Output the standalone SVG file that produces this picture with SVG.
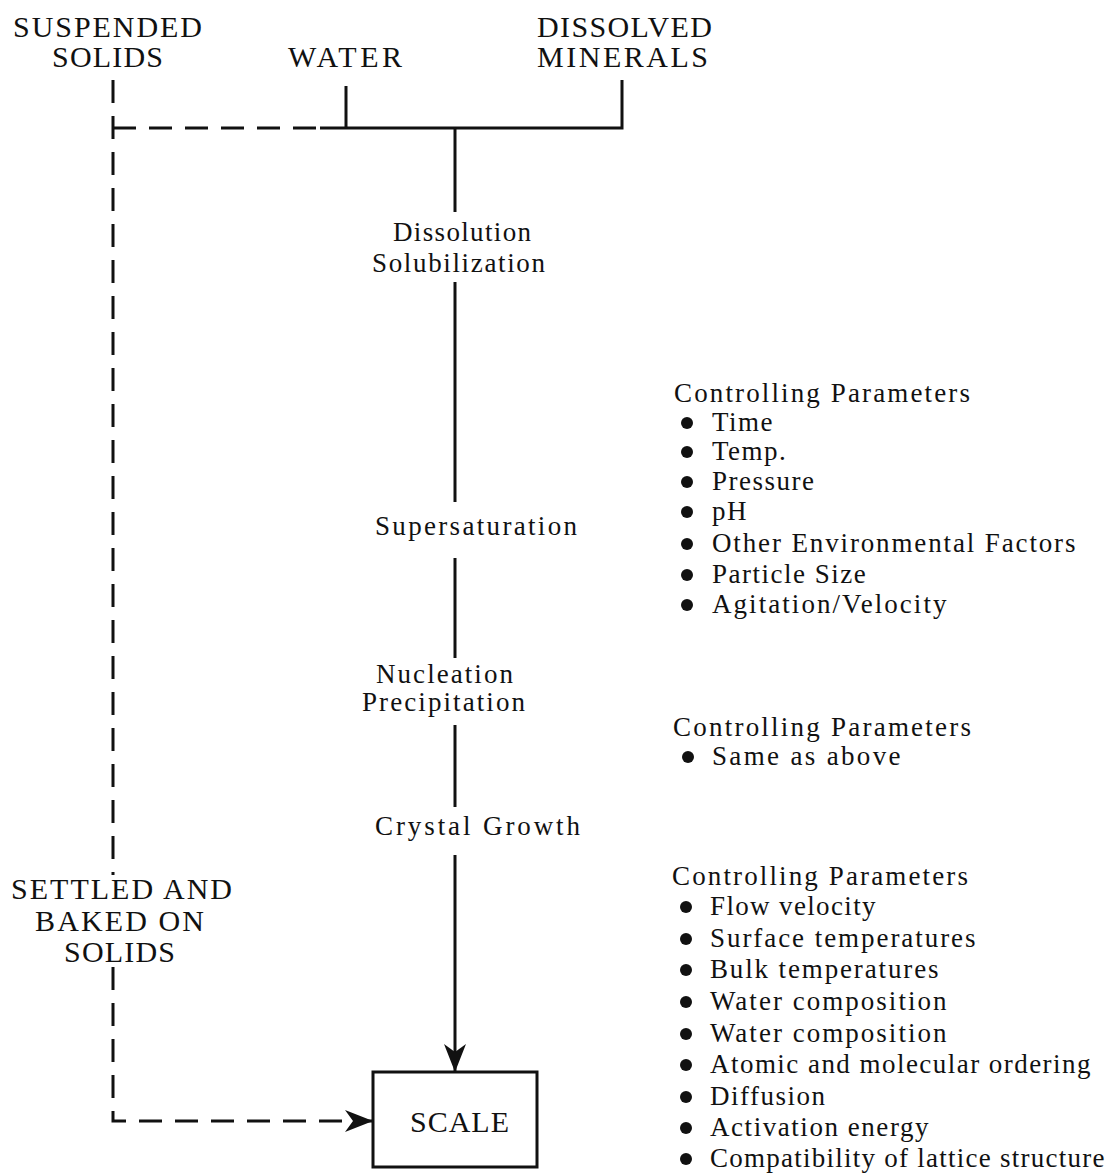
<svg xmlns="http://www.w3.org/2000/svg" width="1110" height="1176" viewBox="0 0 1110 1176">
<defs>
<style>
text{font-family:"Liberation Serif","Times New Roman",serif;fill:#111}
.cap{font-size:30px}
.mid{font-size:27px}
.lst{font-size:27px;letter-spacing:1.5px}
.ln{stroke:#111;stroke-width:3;fill:none}
.dash{stroke-dasharray:23 13}
.bul{fill:#111}
.box{stroke:#111;stroke-width:3;fill:#fff}
</style>
<marker id="arr" viewBox="0 0 28 22" refX="27" refY="11" markerWidth="28" markerHeight="22" markerUnits="userSpaceOnUse" orient="auto">
<path d="M0,0 L28,11 L0,22 L8,11 Z" fill="#111"/>
</marker>
</defs>
<rect width="1110" height="1176" fill="#fff"/>

<g id="connectors">
<path class="ln dash" d="M113,80 V875"/>
<path class="ln dash" d="M113,967 V1121 H372" marker-end="url(#arr)"/>
<path class="ln dash" d="M113,128 H320"/>
<path class="ln" d="M320,128 H622 V80"/>
<path class="ln" d="M346,86 V128"/>
<path class="ln" d="M455,128 V212"/>
<path class="ln" d="M455,282 V502"/>
<path class="ln" d="M455,558 V658"/>
<path class="ln" d="M455,725 V807"/>
<path class="ln" d="M455,855 V1071" marker-end="url(#arr)"/>
</g>

<g id="suspended-solids">
<text class="cap" x="13" y="37" textLength="189" lengthAdjust="spacing">SUSPENDED</text>
<text class="cap" x="52" y="67" textLength="111" lengthAdjust="spacing">SOLIDS</text>
</g>
<g id="water">
<text class="cap" x="288" y="67" textLength="114" lengthAdjust="spacing">WATER</text>
</g>
<g id="dissolved-minerals">
<text class="cap" x="537" y="37" textLength="175" lengthAdjust="spacing">DISSOLVED</text>
<text class="cap" x="537" y="67" textLength="171" lengthAdjust="spacing">MINERALS</text>
</g>
<g id="dissolution">
<text class="mid" x="393" y="241" textLength="138" lengthAdjust="spacing">Dissolution</text>
<text class="mid" x="372" y="272" textLength="173" lengthAdjust="spacing">Solubilization</text>
</g>
<g id="supersaturation">
<text class="mid" x="375" y="535" textLength="202" lengthAdjust="spacing">Supersaturation</text>
</g>
<g id="nucleation">
<text class="mid" x="376" y="683" textLength="137" lengthAdjust="spacing">Nucleation</text>
<text class="mid" x="362" y="711" textLength="163" lengthAdjust="spacing">Precipitation</text>
</g>
<g id="crystal-growth">
<text class="mid" x="375" y="835" textLength="205" lengthAdjust="spacing">Crystal Growth</text>
</g>
<g id="settled-solids">
<text class="cap" x="11" y="899" textLength="221" lengthAdjust="spacing">SETTLED AND</text>
<text class="cap" x="35" y="931" textLength="169" lengthAdjust="spacing">BAKED ON</text>
<text class="cap" x="64" y="962" textLength="111" lengthAdjust="spacing">SOLIDS</text>
</g>
<g id="scale">
<rect class="box" x="373" y="1072" width="164" height="95"/>
<text class="cap" x="410" y="1132" textLength="99" lengthAdjust="spacing">SCALE</text>
</g>

<g id="params-1">
<text class="mid" x="674" y="402" textLength="296" lengthAdjust="spacing">Controlling Parameters</text>
<circle class="bul" cx="687" cy="423" r="6"/><text class="lst" x="712" y="431">Time</text>
<circle class="bul" cx="687" cy="452" r="6"/><text class="lst" x="712" y="460">Temp.</text>
<circle class="bul" cx="687" cy="482" r="6"/><text class="lst" x="712" y="490">Pressure</text>
<circle class="bul" cx="687" cy="512" r="6"/><text class="lst" x="712" y="520">pH</text>
<circle class="bul" cx="687" cy="544" r="6"/><text class="lst" x="712" y="552" textLength="365" lengthAdjust="spacing">Other Environmental Factors</text>
<circle class="bul" cx="687" cy="575" r="6"/><text class="lst" x="712" y="583">Particle Size</text>
<circle class="bul" cx="687" cy="605" r="6"/><text class="lst" x="712" y="613" textLength="236" lengthAdjust="spacing">Agitation/Velocity</text>
</g>
<g id="params-2">
<text class="mid" x="673" y="736" textLength="298" lengthAdjust="spacing">Controlling Parameters</text>
<circle class="bul" cx="688" cy="757" r="6"/><text class="lst" x="712" y="765" textLength="190" lengthAdjust="spacing">Same as above</text>
</g>
<g id="params-3">
<text class="mid" x="672" y="885" textLength="296" lengthAdjust="spacing">Controlling Parameters</text>
<circle class="bul" cx="686" cy="907" r="6"/><text class="lst" x="710" y="915" textLength="167" lengthAdjust="spacing">Flow velocity</text>
<circle class="bul" cx="686" cy="939" r="6"/><text class="lst" x="710" y="947" textLength="267" lengthAdjust="spacing">Surface temperatures</text>
<circle class="bul" cx="686" cy="970" r="6"/><text class="lst" x="710" y="978" textLength="230" lengthAdjust="spacing">Bulk temperatures</text>
<circle class="bul" cx="686" cy="1002" r="6"/><text class="lst" x="710" y="1010" textLength="238" lengthAdjust="spacing">Water composition</text>
<circle class="bul" cx="686" cy="1034" r="6"/><text class="lst" x="710" y="1042" textLength="238" lengthAdjust="spacing">Water composition</text>
<circle class="bul" cx="686" cy="1065" r="6"/><text class="lst" x="710" y="1073" textLength="382" lengthAdjust="spacing">Atomic and molecular ordering</text>
<circle class="bul" cx="686" cy="1097" r="6"/><text class="lst" x="710" y="1105">Diffusion</text>
<circle class="bul" cx="686" cy="1128" r="6"/><text class="lst" x="710" y="1136" textLength="220" lengthAdjust="spacing">Activation energy</text>
<circle class="bul" cx="686" cy="1159" r="6"/><text class="lst" x="710" y="1167" textLength="396" lengthAdjust="spacing">Compatibility of lattice structure</text>
</g>
</svg>
